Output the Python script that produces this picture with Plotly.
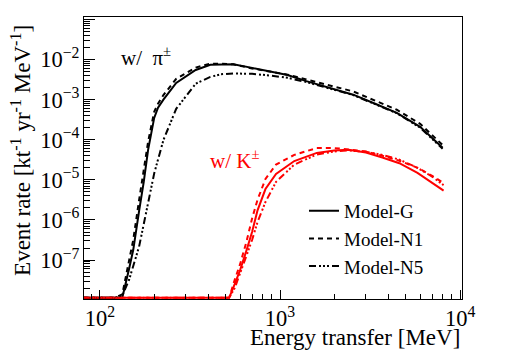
import numpy as np
import plotly.graph_objects as go

# energy transfer grids [MeV]
e_pi = [80, 120, 133, 145, 153, 165, 175, 185, 200, 210, 225, 265, 340, 410,
        470, 550, 700, 880, 1100, 1400, 1900, 2550, 3400, 4450, 6000, 8000]
e_k = [80, 300, 500, 522, 560, 600, 650, 700, 750, 830, 950, 1200, 1600,
       2000, 2400, 3000, 3700, 4600, 5800, 7000, 8100]

# event rate [kt^-1 yr^-1 MeV^-1], w/ pi+-
pi_g = [0, 0, 0, 6.0e-8, 1.8e-7, 1.7e-6, 8.9e-6, 5.6e-5, 3.5e-4, 6.3e-4,
        1.0e-3, 2.6e-3, 5.5e-3, 7.4e-3, 7.6e-3, 7.6e-3, 6.2e-3, 5.1e-3,
        4.1e-3, 2.9e-3, 1.95e-3, 1.33e-3, 7.8e-4, 4.7e-4, 2.1e-4, 6.3e-5]
pi_n1 = [0, 0, 1.4e-8, 1.0e-7, 3.2e-7, 3.2e-6, 1.6e-5, 8.9e-5, 5.0e-4, 7.9e-4,
         1.3e-3, 3.3e-3, 6.3e-3, 7.9e-3, 7.9e-3, 7.6e-3, 6.0e-3, 5.0e-3,
         4.2e-3, 3.2e-3, 2.2e-3, 1.6e-3, 9.3e-4, 5.6e-4, 2.5e-4, 7.4e-5]
pi_n5 = [0, 0, 1.3e-8, 3.2e-8, 7.1e-8, 2.2e-7, 7.9e-7, 2.8e-6, 1.45e-5, 3.2e-5,
         9.8e-5, 5.9e-4, 2.5e-3, 3.7e-3, 4.3e-3, 4.5e-3, 4.4e-3, 4.0e-3,
         3.5e-3, 2.75e-3, 1.9e-3, 1.3e-3, 7.6e-4, 4.6e-4, 2.0e-4, 6.0e-5]

# w/ K+-
k_g = [0, 0, 0, 0, 2.5e-8, 5.6e-8, 1.7e-7, 5.1e-7, 1.74e-6, 5.9e-6, 1.4e-5,
       2.95e-5, 4.7e-5, 5.4e-5, 5.6e-5, 4.8e-5, 3.6e-5, 2.6e-5, 1.5e-5,
       8.5e-6, 5.4e-6]
k_n1 = [0, 0, 0, 1.1e-8, 3.2e-8, 7.9e-8, 2.8e-7, 1.1e-6, 3.2e-6, 1.05e-5,
        2.4e-5, 4.2e-5, 6.2e-5, 6.2e-5, 5.75e-5, 5.1e-5, 4.0e-5, 3.0e-5,
        2.0e-5, 1.26e-5, 8.3e-6]
k_n5 = [0, 0, 0, 0, 2.0e-8, 4.5e-8, 1.26e-7, 3.2e-7, 8.9e-7, 2.8e-6, 8.9e-6,
        2.4e-5, 4.3e-5, 5.1e-5, 5.4e-5, 5.0e-5, 4.2e-5, 3.2e-5, 2.0e-5,
        1.2e-5, 7.4e-6]

models = ["Model-G", "Model-N1", "Model-N5"]
dashes = ["solid", "5px,4px", "7px,3px,2px,2px,2px,2px,2px,3px"]

ymin, ymax = 1.07e-8, 0.115
floor = 1.15e-8  # empty bins drawn along the bottom, as ROOT does

fig = go.Figure()
for j, (name, dash) in enumerate(zip(models, dashes)):
    pi_vals = [pi_g, pi_n1, pi_n5][j]
    k_vals = [k_g, k_n1, k_n5][j]
    fig.add_trace(go.Scatter(
        x=e_pi, y=np.maximum(pi_vals, floor),
        mode="lines", name=name, legendgroup=name,
        line=dict(color="black", width=2, dash=dash)))
    fig.add_trace(go.Scatter(
        x=e_k, y=np.maximum(k_vals, floor),
        mode="lines", name=name, legendgroup=name, showlegend=False,
        line=dict(color="red", width=2, dash=dash)))

font = "Liberation Serif"
fig.add_annotation(text="w/  π<sup>±</sup>", x=0.164, y=0.86, xref="paper",
                   yref="paper", xanchor="center", yanchor="middle",
                   showarrow=False,
                   font=dict(family=font, size=21, color="black"))
fig.add_annotation(text="w/ K<sup>±</sup>", x=0.397, y=0.494, xref="paper",
                   yref="paper", xanchor="center", yanchor="middle",
                   showarrow=False,
                   font=dict(family=font, size=21, color="red"))
fig.add_annotation(text="Energy transfer [MeV]", x=1.0, y=-0.138,
                   xref="paper", yref="paper", xanchor="right",
                   yanchor="middle", showarrow=False,
                   font=dict(family=font, size=23, color="black"))
fig.add_annotation(text="Event rate [kt<sup>-1</sup> yr<sup>-1</sup> MeV<sup>-1</sup>]",
                   x=-0.166, y=0.526, xref="paper", yref="paper",
                   xanchor="center", yanchor="middle",
                   textangle=-90, showarrow=False,
                   font=dict(family=font, size=23, color="black"))

# page body has an 8px margin, so the figure is shrunk to fit the window
fig.update_layout(
    width=517, height=348,
    margin=dict(l=76, r=63, t=9, b=57),
    plot_bgcolor="white", paper_bgcolor="white",
    font=dict(family=font, size=18, color="black"),
    showlegend=True,
    legend=dict(x=0.582, y=0.38, xanchor="left", yanchor="top",
                bgcolor="rgba(0,0,0,0)", tracegroupgap=0,
                font=dict(family=font, size=19)))
fig.update_xaxes(
    type="log", range=[np.log10(81.5), np.log10(10250)],
    automargin=False,
    showline=True, linecolor="black", linewidth=1, mirror=True,
    showgrid=False, zeroline=False,
    ticks="inside", ticklen=9, tickcolor="black", dtick=1,
    exponentformat="power", tickfont=dict(family=font, size=18),
    minor=dict(ticks="inside", ticklen=5, tickcolor="black", dtick="D1",
               showgrid=False))
fig.update_yaxes(
    type="log", range=[np.log10(ymin), np.log10(ymax)],
    automargin=False,
    showline=True, linecolor="black", linewidth=1, mirror=True,
    showgrid=False, zeroline=False,
    ticks="inside", ticklen=11, tickcolor="black", dtick=1,
    exponentformat="power", tickfont=dict(family=font, size=18),
    minor=dict(ticks="inside", ticklen=6, tickcolor="black", dtick="D1",
               showgrid=False))

fig.write_html("out.html")
